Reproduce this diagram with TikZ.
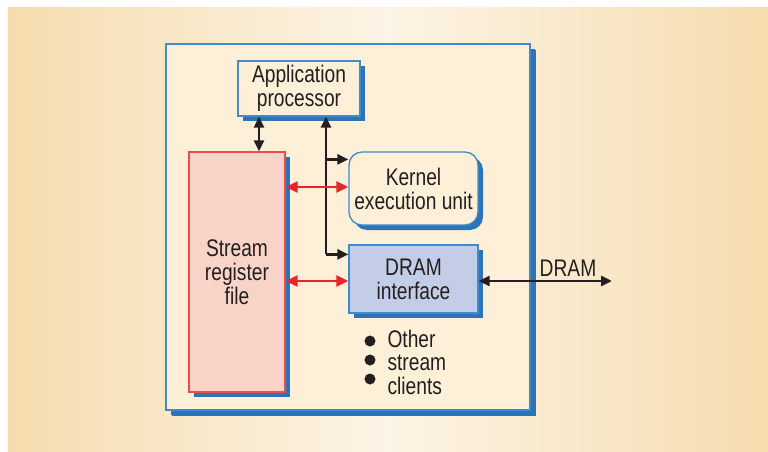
\documentclass[tikz,border=0pt]{standalone}
\usepackage{fontspec}
\setmainfont[FakeStretch=0.8]{Liberation Sans}
\usetikzlibrary{arrows.meta,positioning,shadows}

\definecolor{paneltan}{HTML}{F5DCAE}
\definecolor{panellight}{HTML}{FCF4E6}
\definecolor{cream}{HTML}{FEF0D8}
\definecolor{shadowblue}{HTML}{2B74B8}
\definecolor{edgeblue}{HTML}{3F8BCB}
\definecolor{srfpink}{HTML}{F8D4C8}
\definecolor{srfred}{HTML}{EE4B4B}
\definecolor{dramblue}{HTML}{C4CDE7}
\definecolor{linkred}{HTML}{E8262A}
\definecolor{ink}{HTML}{231F20}

\tikzset{
  unit/.style={draw=edgeblue, line width=1.3pt, fill=cream, align=center,
    text=ink, font=\fontsize{24}{24}\selectfont,
    copy shadow={shadow xshift=5pt, shadow yshift=-5pt, fill=shadowblue, draw=none}},
  blk/.style={draw=ink, line width=2.8pt, {Triangle[length=11pt,width=10pt]}-{Triangle[length=11pt,width=10pt]}},
  one/.style={draw=ink, line width=2.8pt, -{Triangle[length=11pt,width=10pt]}},
  red/.style={draw=linkred, line width=2.8pt, {Triangle[length=12pt,width=11pt]}-{Triangle[length=12pt,width=11pt]}},
  dot/.style={circle, fill=ink, inner sep=0pt, minimum size=11pt},
}

\begin{document}
\begin{tikzpicture}[x=1pt,y=-1pt]
  \useasboundingbox (0,0) rectangle (768,452);
  \shade[left color=paneltan, right color=paneltan, middle color=panellight] (8,8) rectangle (768,452);

  % blocks
  \node[unit, minimum width=364pt, minimum height=366pt,
    copy shadow={shadow xshift=6pt, shadow yshift=-6pt, fill=shadowblue, draw=none}] (chip) at (348,227) {};
  \node[unit, minimum width=122pt, minimum height=55pt] (ap) at (299,88.5) {Application\\processor};
  \node[unit, draw=srfred, fill=srfpink, minimum width=96pt, minimum height=240pt] (srf) at (237,272) {Stream\\register\\file};
  \node[unit, rounded corners=13pt, minimum width=129pt, minimum height=73pt] (keu) at (413.5,188.5) {Kernel\\execution unit};
  \node[unit, fill=dramblue, minimum width=129pt, minimum height=68pt] (dram) at (413.5,279) {DRAM\\interface};

  % other clients
  \node[align=left, anchor=west, text=ink, font=\fontsize{24}{23.5}\selectfont] (others) at (384,362) {Other\\stream\\clients};
  \node[dot] (b1) at (370,341) {};
  \node[dot] (b2) at (370,360) {};
  \node[dot] (b3) at (370,379) {};

  % links
  \coordinate (busx) at (326,0);
  \coordinate (ktap) at ([yshift=-8pt]keu.north west);
  \coordinate (dtap) at ([yshift=-10pt]dram.north west);
  \coordinate (ext) at (612,281);
  \draw[blk] ([xshift=22pt]srf.north) -- ([xshift=22pt]srf.north |- ap.south);
  \draw[one] (dtap -| busx) -- (busx |- ap.south);
  \draw[one] (ktap -| busx) -- (ktap);
  \draw[one] (dtap -| busx) -- (dtap);
  \draw[red] ([yshift=1.5pt]keu.west -| srf.east) -- ([yshift=1.5pt]keu.west);
  \draw[red] ([yshift=-2pt]dram.west -| srf.east) -- ([yshift=-2pt]dram.west);
  \draw[blk] ([yshift=-2pt]dram.east) -- (ext)
    node[pos=0.67, above=0pt, text=ink, font=\fontsize{24}{24}\selectfont] (ext label) {DRAM};
\end{tikzpicture}
\end{document}
